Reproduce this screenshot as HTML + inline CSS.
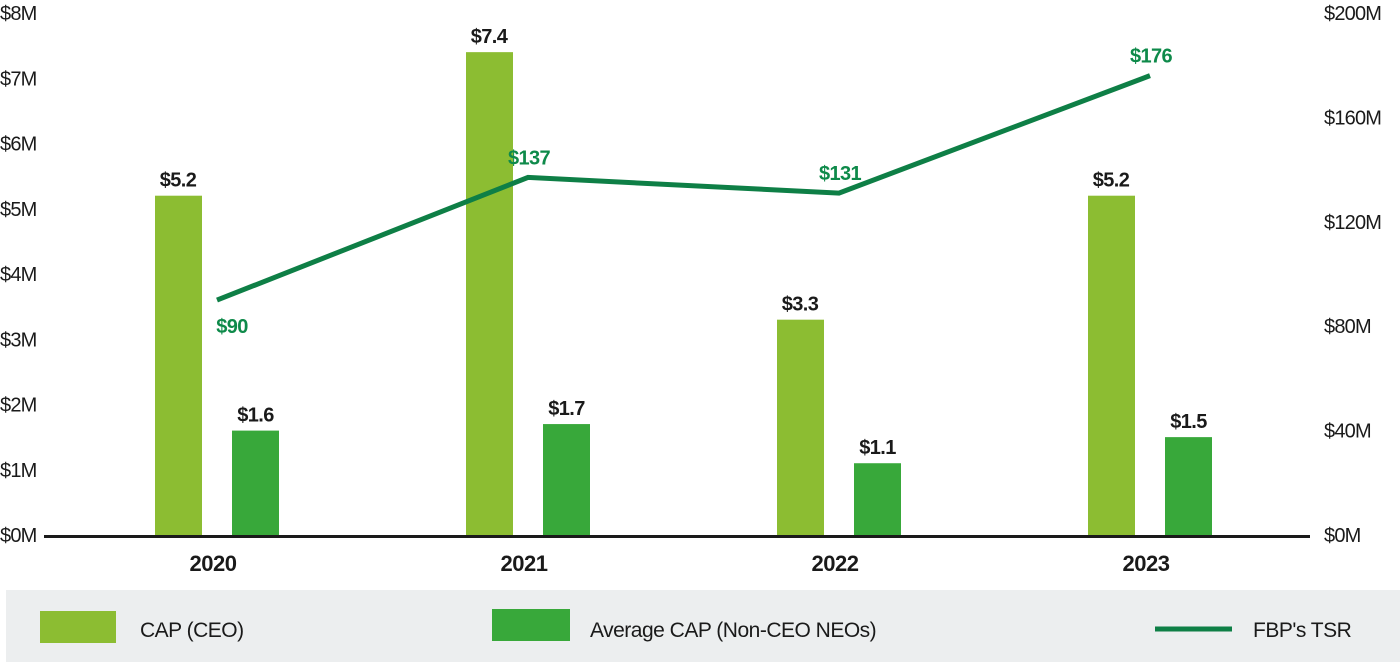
<!DOCTYPE html>
<html><head><meta charset="utf-8"><style>
body{margin:0;background:#fff;}
svg{display:block;font-family:"Liberation Sans",sans-serif;}
</style></head><body>
<svg id="chart" width="1400" height="662">
<rect x="6" y="590" width="1394" height="72" fill="#eceeef"/>
<rect x="40" y="611" width="76" height="32" fill="#8cbd32"/>
<text x="140" y="637" font-size="21" fill="#1a1a1a" letter-spacing="-0.5">CAP (CEO)</text>
<rect x="492" y="609" width="78" height="32" fill="#38a83a"/>
<text x="590" y="637" font-size="21" fill="#1a1a1a" letter-spacing="-0.5">Average CAP (Non-CEO NEOs)</text>
<line x1="1155" y1="629" x2="1232" y2="629" stroke="#0e7f46" stroke-width="5"/>
<text x="1253" y="637" font-size="21" fill="#1a1a1a" letter-spacing="-0.5">FBP's TSR</text>
<g id="plot"></g>
</svg>
<script>
const years = ["2020","2021","2022","2023"];
const capCeo = [5.2, 7.4, 3.3, 5.2];
const avgCap = [1.6, 1.7, 1.1, 1.5];
const tsr = [90, 137, 131, 176];
const leftTicks = [0,1,2,3,4,5,6,7,8];
const rightTicks = [0,40,80,120,160,200];

const NS="http://www.w3.org/2000/svg";
const g=document.getElementById('plot');
const y0=535, yTop=13;
const yL=v=>y0-(v/8)*(y0-yTop);
const yR=v=>y0-(v/200)*(y0-yTop);
const xC=i=>217+i*311;
function mk(tag,attrs,txt){const e=document.createElementNS(NS,tag);for(const k in attrs)e.setAttribute(k,attrs[k]);if(txt!==undefined)e.textContent=txt;g.appendChild(e);return e;}

leftTicks.forEach(v=>{
  const t=mk('text',{x:0,y:yL(v)+7,'font-size':20,fill:'#1a1a1a','letter-spacing':'-0.8'},'$'+v+'M');
  
  
});
rightTicks.forEach(v=>{
  const t=mk('text',{x:1324,y:yR(v)+7,'font-size':20,fill:'#1a1a1a','letter-spacing':'-0.8'},'$'+v+'M');
  
  
});

years.forEach((yr,i)=>{
  const c=xC(i);
  const b1=mk('rect',{x:c-62,y:yL(capCeo[i]),width:47,height:y0-yL(capCeo[i]),fill:'#8cbd32'});
  
  
  const l1=mk('text',{x:c-39,y:yL(capCeo[i])-9,'font-size':20,'font-weight':'bold',fill:'#1a1a1a','text-anchor':'middle','letter-spacing':'-0.6'},'$'+capCeo[i].toFixed(1));
  
  
  const b2=mk('rect',{x:c+15,y:yL(avgCap[i]),width:47,height:y0-yL(avgCap[i]),fill:'#38a83a'});
  
  
  const l2=mk('text',{x:c+38.5,y:yL(avgCap[i])-9,'font-size':20,'font-weight':'bold',fill:'#1a1a1a','text-anchor':'middle','letter-spacing':'-0.6'},'$'+avgCap[i].toFixed(1));
  
  
  const xl=mk('text',{x:c-4,y:571,'font-size':22,'font-weight':'bold',fill:'#1a1a1a','text-anchor':'middle','letter-spacing':'-0.5'},yr);
  
  
});

const base=mk('line',{x1:44,y1:536.5,x2:1310,y2:536.5,stroke:'#1a1a1a','stroke-width':3});



const pts=tsr.map((v,i)=>xC(i)+','+yR(v)).join(' ');
const line=mk('polyline',{points:pts,fill:'none',stroke:'#0e7f46','stroke-width':5});


tsr.forEach((v,i)=>{
  const dx = i===0?15:1, dy = i===0?33:-13;
  const t=mk('text',{x:xC(i)+dx,y:yR(v)+dy,'font-size':20,'font-weight':'bold',fill:'#0e8a4a','text-anchor':'middle','letter-spacing':'-0.6'},'$'+v);
  
  
});
</script>
</body></html>
